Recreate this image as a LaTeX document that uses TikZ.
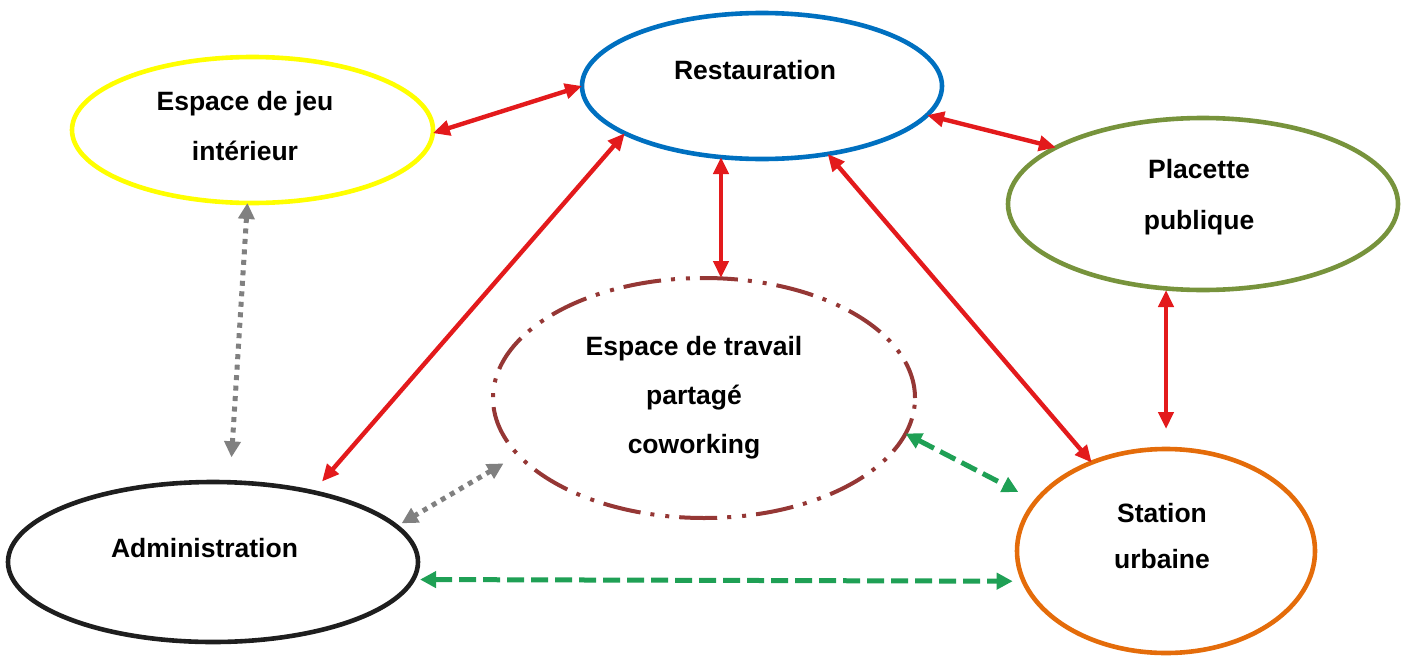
\documentclass[tikz,border=0pt]{standalone}
\usepackage{fontspec}
\setmainfont{Liberation Sans}
\usetikzlibrary{shapes.geometric,arrows.meta}
\definecolor{cyellow}{HTML}{FFFF00}
\definecolor{cblue}{HTML}{0070C0}
\definecolor{colive}{HTML}{77933C}
\definecolor{cdred}{HTML}{953735}
\definecolor{cblack}{HTML}{1E1E1E}
\definecolor{corange}{HTML}{E46C0A}
\definecolor{arrred}{HTML}{E31A1C}
\definecolor{arrgray}{HTML}{808080}
\definecolor{arrgreen}{HTML}{1FA055}
\tikzset{
  ell/.style={ellipse, draw, line width=4.6pt, inner sep=0pt, outer sep=0pt},
  lbl/.style={align=center, inner sep=0pt, font=\fontsize{26.5}{#1}\selectfont\bfseries},
  redarr/.style={draw=arrred, line width=4.4pt,
    {Triangle[length=17pt,width=15pt]}-{Triangle[length=17pt,width=15pt]}},
  grayarr/.style={draw=arrgray, line width=5pt, dash pattern=on 5pt off 5.5pt,
    {Triangle[length=16pt,width=16pt]}-{Triangle[length=16pt,width=16pt]}},
  greenarr/.style={draw=arrgreen, line width=5pt, dash pattern=on 17pt off 7pt,
    {Triangle[length=16pt,width=16pt]}-{Triangle[length=16pt,width=16pt]}},
  dashdotdot/.style={dash pattern=on 38pt off 10pt on 4pt off 11pt on 4pt off 10pt}
}
\begin{document}
\begin{tikzpicture}[x=1pt,y=-1pt]
\useasboundingbox (0,0) rectangle (1407,656);
% ellipses
\node[ell, draw=cyellow, minimum width=361pt, minimum height=146pt] (jeu) at (252.5,130) {};
\node[ell, draw=cblue, minimum width=360pt, minimum height=146pt] (rest) at (762,86) {};
\node[ell, draw=colive, minimum width=390pt, minimum height=172pt] (plac) at (1203,204) {};
\node[ell, draw=cdred, line width=4pt, dashdotdot, minimum width=422pt, minimum height=240pt] (cow) at (704,398) {};
\node[ell, draw=cblack, minimum width=410pt, minimum height=160pt] (adm) at (213,562) {};
\node[ell, draw=corange, minimum width=298pt, minimum height=204pt] (stat) at (1166,551) {};
% labels
\node[lbl=50] (tjeu) at (245,125) {\strut Espace de jeu\\\strut intérieur};
\node[lbl=49] (trest) at (755,69.2) {\strut Restauration};
\node[lbl=51] (tplac) at (1199,193.3) {\strut Placette\\\strut publique};
\node[lbl=49] (tcow) at (694,394.2) {\strut Espace de travail\\\strut partagé\\\strut coworking};
\node[lbl=49] (tadm) at (204.5,547.2) {\strut Administration};
\node[lbl=46] (tstat) at (1162,535.8) {\strut Station\\\strut urbaine};
% red connectors
\draw[redarr] (jeu.-1.6) -- (rest.180);
\draw[redarr, shorten >=14pt] (rest.-161.4) -- (adm.35);
\draw[redarr] (rest.-120.6) -- (rest.-120.6 |- cow.north);
\draw[redarr] (rest.-10) -- (plac.159.4);
\draw[redarr] (rest.-46.2) -- (stat.130);
\draw[redarr, shorten >=20pt] (stat.north |- plac.south) -- (stat.north);
% gray dotted connectors
\draw[grayarr, shorten >=25pt] (jeu.-94.7) -- (adm.78);
\draw[grayarr, shorten <=17pt, shorten >=6pt] (cow.-163.6) -- (adm.11.8);
% green dashed connectors
\draw[greenarr, shorten >=20pt] (cow.-10) -- (stat.159);
\draw[greenarr, shorten <=7pt, shorten >=11pt] (adm.-5.1) -- (stat.-168.5);
\end{tikzpicture}
\end{document}
